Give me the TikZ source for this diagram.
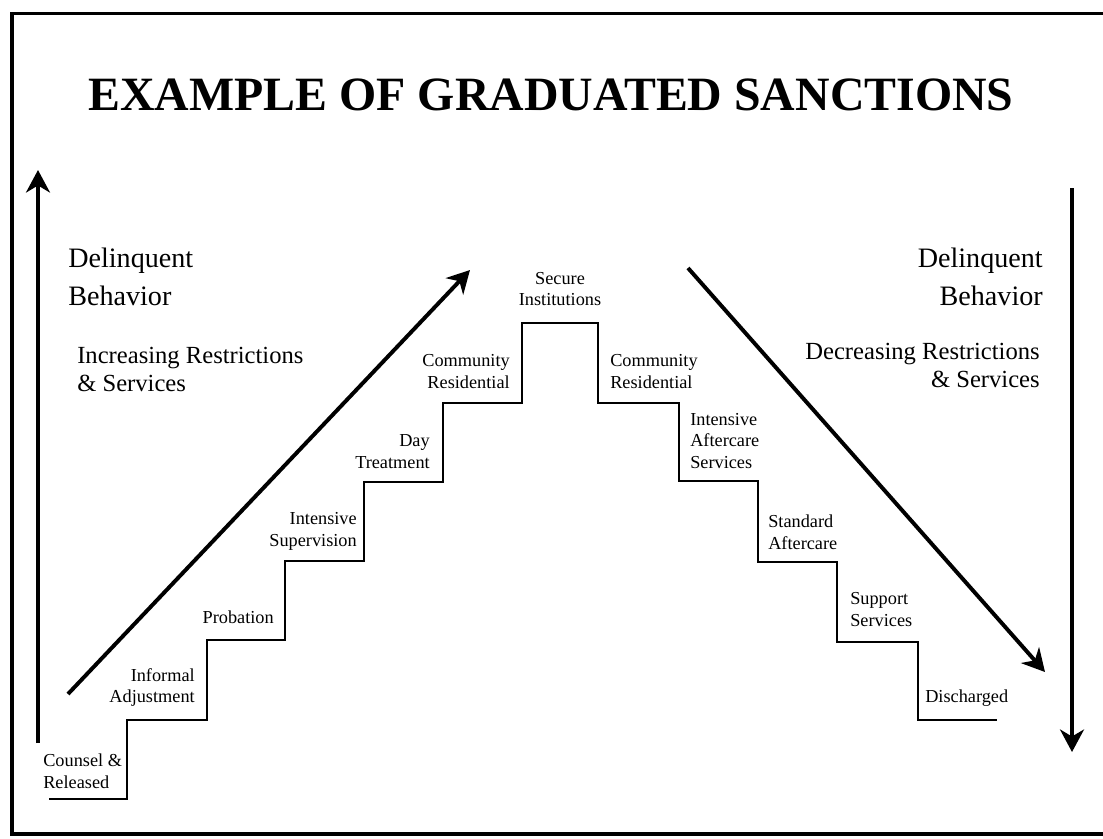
\documentclass[tikz,border=0pt]{standalone}
\usepackage{fontspec}
\setmainfont{Liberation Serif}
\usetikzlibrary{arrows.meta,positioning,calc}

\begin{document}
\begin{tikzpicture}
[x=0.025cm, y=-0.025cm,
frame/.style={line width=2.5pt},
stair/.style={line width=1.6pt},
bigarrow/.style={line width=2.8pt, -{Stealth[length=16pt,width=17pt,inset=5pt]}},
steplabel/.style={font=\fontsize{13}{15.6}\selectfont, inner sep=0pt},
behlabel/.style={font=\fontsize{20}{27}\selectfont, inner sep=0pt},
restlabel/.style={font=\fontsize{17.5}{20.5}\selectfont, inner sep=0pt}]
\useasboundingbox (0,0) rectangle (1103,838);

% frame, open on the right
\draw[frame] (1110,13.5) -- (12,13.5) -- (12,834) -- (1110,834);

\node (title) at (551,95) {\fontsize{34}{40}\selectfont\bfseries EXAMPLE OF GRADUATED SANCTIONS};

% the stairs
\draw[stair] (49,799) -| (127,720) -| (207,640) -| (285,561) -| (364,482)
  -| (443,403) -| (522,323) -| (598,403) -| (679,481) -| (758,562)
  -| (837,642) -| (918,720) -- (997,720);

% step labels, going up
\node (c1) at (43,771) [steplabel,anchor=west,align=left] {Counsel \&\\Released};
\node (c2) at (195,687.5) [steplabel,anchor=east,align=right] {Informal\\Adjustment};
\node (c3) at (274,617) [steplabel,anchor=east,align=right] {Probation};
\node (c4) at (357,531.5) [steplabel,anchor=east,align=right] {Intensive\\Supervision};
\node (c5) at (430,452) [steplabel,anchor=east,align=right] {Day\\Treatment};
\node (c6) at (510,371.5) [steplabel,anchor=east,align=right] {Community\\Residential};
\node (c7) at (560,289) [steplabel,align=center] {Secure\\Institutions};
% step labels, going down
\node (d1) at (610,371.5) [steplabel,anchor=west,align=left] {Community\\Residential};
\node (d2) at (690,441) [steplabel,anchor=west,align=left] {Intensive\\Aftercare\\Services};
\node (d3) at (768,532.5) [steplabel,anchor=west,align=left] {Standard\\Aftercare};
\node (d4) at (850,609.5) [steplabel,anchor=west,align=left] {Support\\Services};
\node (d5) at (925,698) [steplabel,anchor=west,align=left] {Discharged};

% side texts
\node (bl) at (68,277) [behlabel,anchor=west,align=left] {Delinquent\\Behavior};
\node (il) at (77,369.5) [restlabel,anchor=west,align=left] {Increasing Restrictions\\\& Services};
\node (br) at (1043,277) [behlabel,anchor=east,align=right] {Delinquent\\Behavior};
\node (dr) at (1040,365.5) [restlabel,anchor=east,align=right] {Decreasing Restrictions\\\& Services};

% arrows
\coordinate (ul0) at (38,743);
\coordinate (ul1) at (38,170);
\coordinate (ud0) at (68,694);
\coordinate (ud1) at (470,270);
\coordinate (dd0) at (688,268);
\coordinate (dd1) at (1045,672);
\coordinate (dr0) at (1072,188);
\coordinate (dr1) at (1072,752);

\draw[bigarrow] (ul0) -- (ul1);
\draw[bigarrow] (ud0) -- (ud1);
\draw[bigarrow] (dd0) -- (dd1);
\draw[bigarrow] (dr0) -- (dr1);

\end{tikzpicture}
\end{document}
